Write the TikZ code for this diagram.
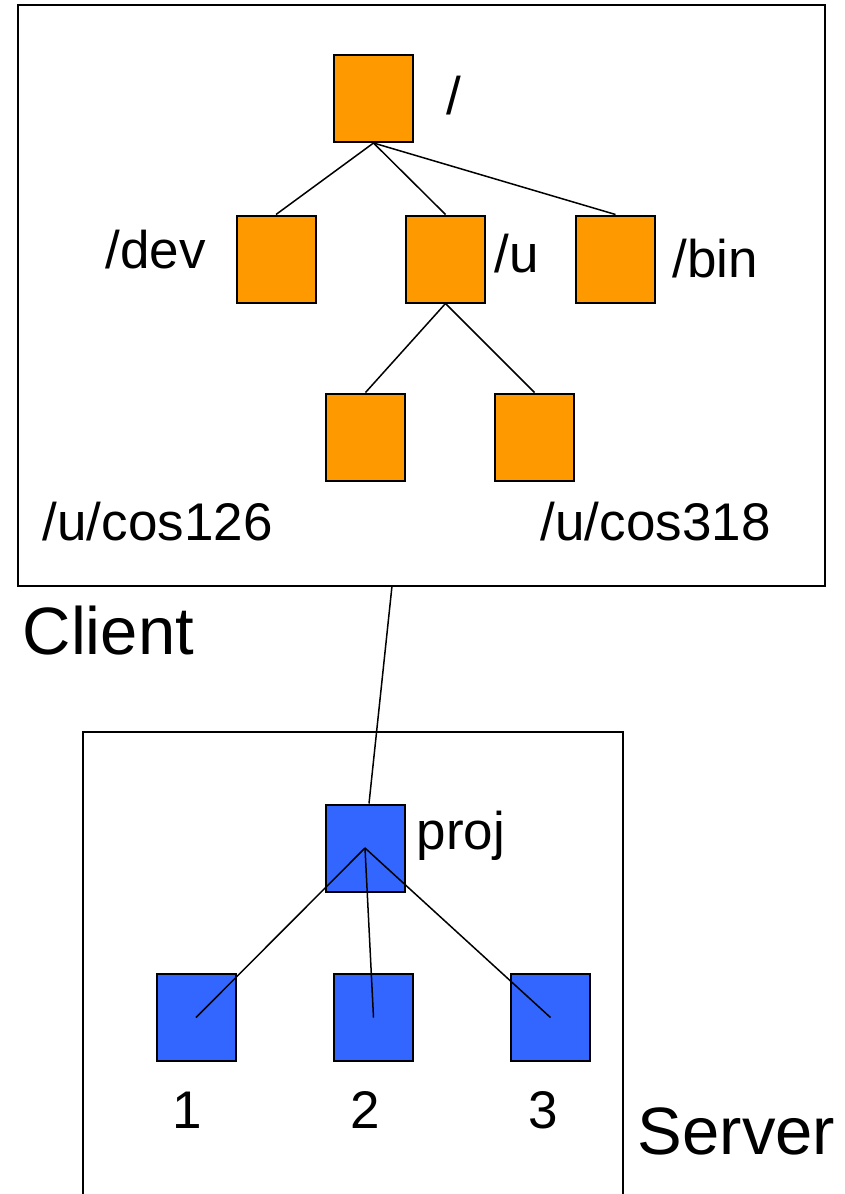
\documentclass[tikz,border=0pt]{standalone}
\usepackage{fontspec}
\setmainfont{Liberation Sans}
\definecolor{dir_orange}{RGB}{255, 153, 0}
\definecolor{dir_blue}{RGB}{51, 102, 255}
\tikzstyle{on}=[rectangle,fill=dir_orange,draw=black,
  line width=2pt,inner sep=0pt,minimum width=79pt,minimum height=87pt]
\tikzstyle{bn}=[rectangle,fill=dir_blue,draw=black,
  line width=2pt,inner sep=0pt,minimum width=79pt,minimum height=87pt]
\tikzstyle{lbl}=[anchor=base west,inner sep=0pt,font=\fontsize{53}{53}\selectfont]
\tikzstyle{num}=[anchor=base,inner sep=0pt,font=\fontsize{53}{53}\selectfont]
\tikzstyle{big}=[anchor=base west,inner sep=0pt,font=\fontsize{67}{67}\selectfont]

\begin{document}
\begin{tikzpicture}[x=1pt,y=-1pt,line width=1.5pt]
        \useasboundingbox (0,0) rectangle (845,1194);
        % client side
        \draw [line width=2pt] (18,5) rectangle (825,586);
        \node [style=on] (root) at (373.5,98.5) {};
        \node [style=on] (dev) at (276,259) {};
        \node [style=on] (u) at (445.5,259) {};
        \node [style=on] (bin) at (615.5,259) {};
        \node [style=on] (c126) at (365.5,437) {};
        \node [style=on] (c318) at (534.5,437) {};
        \node [style=lbl] (lroot) at (446,114) {/};
        \node [style=lbl] (ldev) at (105,268) {/dev};
        \node [style=lbl] (lu) at (494,272) {/u};
        \node [style=lbl] (lbin) at (672,277) {/bin};
        \node [style=lbl] (l126) at (42,540) {/u/cos126};
        \node [style=lbl] (l318) at (540,540) {/u/cos318};
        \node [style=big] (client) at (22,654) {Client};
        \draw (root.south) to (dev.north);
        \draw (root.south) to (u.north);
        \draw (root.south) to (bin.north);
        \draw (u.south) to (c126.north);
        \draw (u.south) to (c318.north);
        % server side
        \draw [line width=2pt] (83,1194) -- (83,732) -- (623,732) -- (623,1194);
        \node [style=bn] (proj) at (365,848) {};
        \node [style=bn] (b1) at (196,1017.5) {};
        \node [style=bn] (b2) at (373.5,1017.5) {};
        \node [style=bn] (b3) at (550.5,1017.5) {};
        \node [style=lbl] (lproj) at (416,849) {proj};
        \node [style=num] (l1) at (187,1128) {1};
        \node [style=num] (l2) at (365,1128) {2};
        \node [style=num] (l3) at (543,1128) {3};
        \node [style=big] (server) at (637,1154) {Server};
        \draw (proj.center) to (b1.center);
        \draw (proj.center) to (b2.center);
        \draw (proj.center) to (b3.center);
        % mount link
        \coordinate (mnt) at (392,586);
        \draw (mnt) to ([xshift=4pt]proj.north);
    \end{tikzpicture}
\end{document}
